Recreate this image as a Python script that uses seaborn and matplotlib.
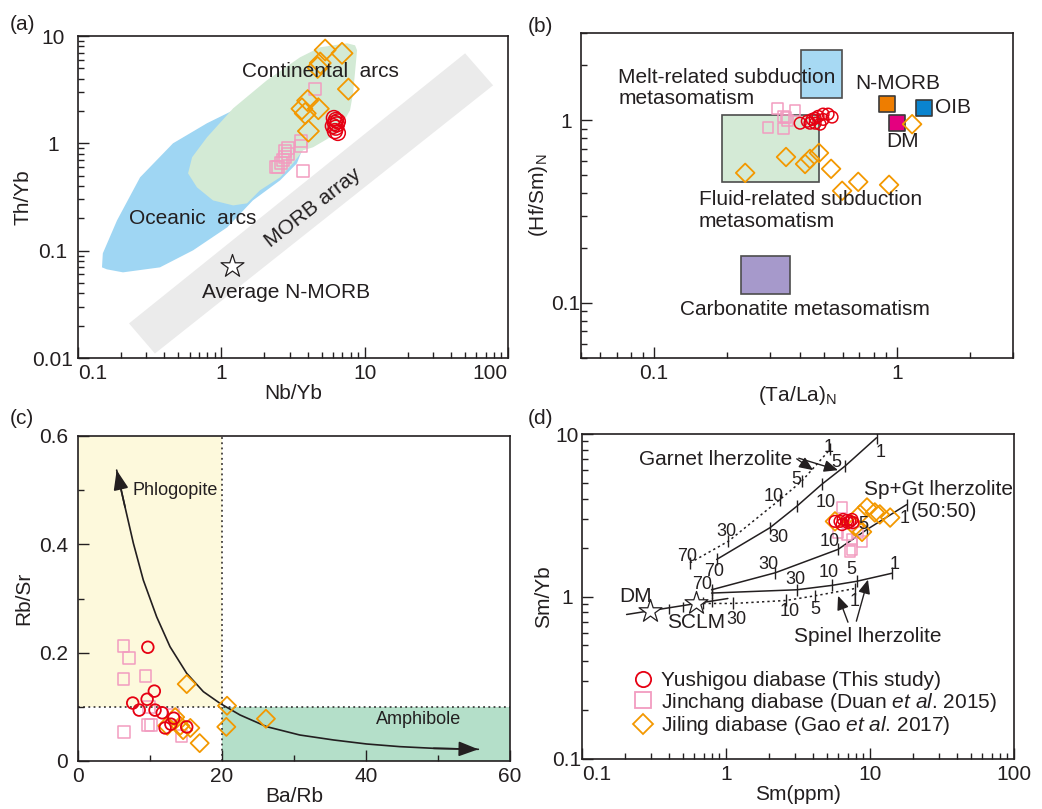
import matplotlib
matplotlib.use("Agg")
import matplotlib.pyplot as plt
import seaborn as sns
from matplotlib.ticker import FuncFormatter, NullFormatter, LogLocator, MultipleLocator
from matplotlib.lines import Line2D

# ---------------- (a) Th/Yb vs Nb/Yb ----------------
a_yus_nb = [6.1, 6.3, 6.5, 6.2, 6.4, 6.0, 6.3, 6.2, 6.5]
a_yus_th = [1.72, 1.65, 1.6, 1.55, 1.5, 1.45, 1.4, 1.3, 1.25]
a_jin_nb = [4.5, 3.6, 3.6, 2.9, 2.8, 2.9, 2.8, 2.7, 2.6, 2.5, 2.4, 3.7]
a_jin_th = [3.2, 1.05, 0.94, 0.9, 0.85, 0.8, 0.75, 0.7, 0.65, 0.6, 0.6, 0.55]
a_jil_nb = [5.3, 6.95, 4.9, 4.7, 7.7, 4.0, 3.65, 4.75, 3.85, 4.05]
a_jil_th = [7.4, 6.9, 5.6, 5.1, 3.2, 2.5, 2.1, 2.1, 1.9, 1.3]

cont_arc_x = [8.57, 8.85, 8.3, 7.9, 6.41, 4.36, 3.72, 3.16, 2.57, 1.86, 1.51, 1.21,
              0.875, 0.676, 0.586, 0.625, 0.795, 1.21, 2.08, 3.54, 4.89, 7.54]
cont_arc_y = [8.19, 7.36, 2.92, 2.03, 1.24, 0.918, 0.861, 0.651, 0.482, 0.365, 0.276, 0.264,
              0.294, 0.389, 0.525, 0.741, 1.14, 2.12, 3.87, 6.33, 7.85, 8.55]
ocean_arc_x = [0.147, 0.149, 0.187, 0.271, 0.46, 0.795, 1.21, 3.54, 3.72, 3.37, 2.57,
               1.66, 1.10, 0.635, 0.373, 0.206, 0.159]
ocean_arc_y = [0.0699, 0.0944, 0.191, 0.482, 1.0, 1.54, 2.03, 1.64, 0.918, 0.651, 0.452,
               0.294, 0.165, 0.1007, 0.0699, 0.0628, 0.067]
morb_x = [0.227, 0.344, 78.7, 50.2]
morb_y = [0.021, 0.011, 3.47, 6.9]
nmorb_avg = (1.19, 0.0714)

# ---------------- (b) (Hf/Sm)N vs (Ta/La)N ----------------
b_yus_ta = [0.399, 0.427, 0.447, 0.46, 0.473, 0.496, 0.52, 0.54, 0.482, 0.46, 0.438, 0.496]
b_yus_hf = [0.963, 0.987, 1.01, 1.025, 1.05, 1.08, 1.08, 1.04, 0.951, 0.963, 0.963, 1.01]
b_jin_ta = [0.321, 0.38, 0.349, 0.34, 0.294, 0.34, 0.355]
b_jin_hf = [1.16, 1.13, 1.03, 1.05, 0.916, 0.905, 1.0]
b_jil_ta = [0.237, 0.349, 0.418, 0.438, 0.477, 0.535, 0.594, 0.692, 0.927, 1.153]
b_jil_hf = [0.515, 0.629, 0.576, 0.614, 0.662, 0.542, 0.411, 0.46, 0.443, 0.951]

melt_box = (0.403, 0.594, 1.32, 2.43)
fluid_box = (0.19, 0.477, 0.46, 1.065)
carb_box = (0.228, 0.363, 0.112, 0.18)
ref_names = ["N-MORB", "OIB", "DM"]
ref_ta = [0.91, 1.285, 1.0]
ref_hf = [1.23, 1.17, 0.97]
ref_colors = ["#ee7d00", "#0a84cf", "#e4007f"]

# ---------------- (c) Rb/Sr vs Ba/Rb ----------------
c_yus_ba = [9.7, 10.6, 9.6, 7.6, 8.5, 10.7, 11.7, 13.3, 12.9, 12.1, 15.1]
c_yus_rb = [0.210, 0.129, 0.114, 0.107, 0.094, 0.094, 0.089, 0.079, 0.068, 0.061, 0.063]
c_jin_ba = [6.3, 7.1, 6.3, 9.4, 9.9, 6.4, 9.7, 10.1, 14.4, 13.2]
c_jin_rb = [0.212, 0.190, 0.151, 0.157, 0.100, 0.054, 0.066, 0.066, 0.046, 0.085]
c_jil_ba = [15.1, 20.7, 20.6, 26.1, 16.9, 12.4, 13.5, 14.2, 15.6, 14.6]
c_jil_rb = [0.142, 0.102, 0.063, 0.078, 0.033, 0.065, 0.081, 0.065, 0.061, 0.057]
trend_ba = [5.37, 6.53, 7.69, 9.07, 10.93, 12.78, 15.09, 17.41, 19.72, 22.5, 26.2,
            30.8, 35.5, 40.1, 44.7, 49.4, 55.6]
trend_rb = [0.537, 0.469, 0.402, 0.334, 0.266, 0.211, 0.162, 0.128, 0.1065, 0.085,
            0.0634, 0.048, 0.0388, 0.0314, 0.0265, 0.0234, 0.0216]

# ---------------- (d) Sm/Yb vs Sm ----------------
d_yus_sm = [5.71, 6.19, 6.5, 6.92, 7.26, 7.62, 6.39, 7.03, 7.5]
d_yus_ra = [2.9, 2.9, 2.98, 2.94, 2.9, 2.85, 2.77, 2.85, 2.98]
d_jin_sm = [6.39, 6.92, 7.5, 8.8, 7.5, 7.26, 6.0, 8.26]
d_jin_ra = [3.53, 2.41, 2.24, 2.18, 1.95, 1.89, 2.48, 2.48]
d_jil_sm = [5.71, 8.53, 9.53, 10.8, 11.7, 13.8, 7.87, 8.8]
d_jil_ra = [2.9, 3.2, 3.53, 3.29, 3.2, 3.06, 2.7, 2.5]

gt_solid_sm = [0.861, 2.02, 3.1, 4.61, 6.7, 11.1]
gt_solid_ra = [1.69, 2.65, 3.59, 4.89, 6.34, 9.48]
gt_dot_sm = [0.562, 1.04, 2.37, 3.36, 5.27]
gt_dot_ra = [1.61, 2.19, 3.95, 5.13, 8.03]
spgt_sm = [0.794, 2.2, 6.0, 9.5, 18.0]
spgt_ra = [1.10, 1.40, 1.95, 2.58, 3.68]
sp_solid_sm = [0.794, 3.1, 5.42, 8.07, 14.2]
sp_solid_ra = [1.05, 1.10, 1.17, 1.24, 1.39]
sp_dot_sm = [0.695, 1.12, 2.6, 4.15, 7.87]
sp_dot_ra = [0.906, 0.906, 0.945, 1.01, 1.12]
mantle_sm = [0.204, 1.03]
mantle_ra = [0.775, 0.972]
mantle_names = ["DM", "SCLM"]
mantle_star_sm = [0.297, 0.62]
mantle_star_ra = [0.812, 0.906]

# melting-degree labels (%) along each curve
gt_solid_lab = ["70", "30", "10", "5", "1"]
gt_solid_lab_sm = [0.83, 2.3, 4.94, 5.8, 11.9]
gt_solid_lab_ra = [1.43, 2.3, 3.77, 6.65, 7.66]
gt_dot_lab = ["70", "30", "10", "5", "1"]
gt_dot_lab_sm = [0.536, 1.01, 2.13, 3.06, 5.13]
gt_dot_lab_ra = [1.77, 2.52, 4.14, 5.25, 8.22]
spgt_lab = ["70", "30", "10", "5", "1"]
spgt_lab_sm = [0.678, 1.97, 5.27, 9.0, 17.3]
spgt_lab_ra = [1.19, 1.57, 2.19, 2.77, 3.0]
sp_solid_lab = ["30", "10", "5", "1"]
sp_solid_lab_sm = [3.01, 5.13, 7.46, 14.9]
sp_solid_lab_ra = [1.27, 1.40, 1.47, 1.57]
sp_dot_lab = ["30", "10", "5", "1"]
sp_dot_lab_sm = [1.19, 2.78, 4.15, 7.87]
sp_dot_lab_ra = [0.722, 0.812, 0.832, 0.936]

RED = "#e60012"
PINK = "#f29cc0"
ORANGE = "#f39800"
INK = "#231f20"

sns.set_theme(style="ticks")
plt.rcParams["font.family"] = ["Liberation Sans", "DejaVu Sans"]
plt.rcParams["mathtext.fontset"] = "custom"
plt.rcParams["mathtext.rm"] = "Liberation Sans"
plt.rcParams["mathtext.it"] = "Liberation Sans:italic"
plt.rcParams["text.color"] = INK
plt.rcParams["axes.labelcolor"] = INK

FS = 15
W, H = 1042, 809
fig = plt.figure(figsize=(W / 100, H / 100), dpi=100)
ax_a = fig.add_axes([78 / W, 1 - 358 / H, 430 / W, 322 / H])
ax_b = fig.add_axes([581 / W, 1 - 358 / H, 432 / W, 325 / H])
ax_c = fig.add_axes([78 / W, 1 - 761 / H, 432 / W, 325 / H])
ax_d = fig.add_axes([582 / W, 1 - 759 / H, 432 / W, 325 / H])

plain = FuncFormatter(lambda v, p: f"{v:g}")


def style(ax, log=True, ypad=8, yha="right"):
    for sp in ax.spines.values():
        sp.set_linewidth(1.2)
        sp.set_color(INK)
    ax.tick_params(which="both", direction="in", top=False, right=False,
                   colors=INK, labelsize=FS, width=1.0)
    ax.tick_params(which="major", length=8)
    ax.tick_params(which="minor", length=4.5)
    ax.tick_params(axis="x", which="both", pad=4)
    ax.tick_params(axis="y", which="both", pad=ypad)
    if log:
        ax.set_xscale("log")
        ax.set_yscale("log")
        for axis in (ax.xaxis, ax.yaxis):
            axis.set_major_locator(LogLocator(base=10, numticks=10))
            axis.set_minor_locator(LogLocator(base=10, subs=range(2, 10), numticks=20))
            axis.set_major_formatter(plain)
            axis.set_minor_formatter(NullFormatter())
    plt.setp(ax.get_yticklabels(), ha=yha)


def align_xlabel(ax, text, ha):
    for lab in ax.get_xticklabels():
        if lab.get_text() == text:
            lab.set_ha(ha)


def hollow(ax, x, y, marker, color, s, lw=1.1, z=5):
    sns.scatterplot(x=x, y=y, marker=marker, s=s, facecolor="none", edgecolor=color,
                    linewidth=lw, ax=ax, zorder=z, legend=False)


# ================= (a) =================
ax = ax_a
ax.fill(ocean_arc_x, ocean_arc_y, color="#9fd6f3", lw=0, zorder=1)
ax.fill(cont_arc_x, cont_arc_y, color="#d3ead5", lw=0, zorder=2)
ax.fill(morb_x, morb_y, color="#ebebeb", lw=0, zorder=1)
ax.scatter([nmorb_avg[0]], [nmorb_avg[1]], marker="*", s=300, facecolor="white",
           edgecolor=INK, linewidth=0.9, zorder=4)
hollow(ax, a_jin_nb, a_jin_th, "s", PINK, 75)
hollow(ax, a_jil_nb, a_jil_th, "D", ORANGE, 115, lw=1.3)
hollow(ax, a_yus_nb, a_yus_th, "o", RED, 115)
ax.text(4.89, 4.69, "Continental  arcs", fontsize=FS, ha="center", va="center", zorder=6)
ax.text(0.635, 0.2, "Oceanic  arcs", fontsize=FS, ha="center", va="center", zorder=6)
ax.text(4.36, 0.253, "MORB array", fontsize=FS, ha="center", va="center",
        rotation=38, zorder=6)
ax.text(2.83, 0.0408, "Average N-MORB", fontsize=FS, ha="center", va="center", zorder=6)
ax.set_xlim(0.1, 100)
ax.set_ylim(0.01, 10)
style(ax, ypad=18, yha="center")
align_xlabel(ax, "0.1", "left")
align_xlabel(ax, "100", "right")
ax.set_xlabel("Nb/Yb", fontsize=FS, labelpad=1)
ax.set_ylabel("Th/Yb", fontsize=FS)
ax.yaxis.set_label_coords(-0.105, 0.5)

# ================= (b) =================
ax = ax_b
for (x0, x1, y0, y1), col in [(melt_box, "#a7d9f3"), (fluid_box, "#d4ead6"),
                              (carb_box, "#a699cb")]:
    ax.fill([x0, x1, x1, x0], [y0, y0, y1, y1], facecolor=col, edgecolor="#4d4d4d",
            lw=1.2, zorder=1)
for xv, yv, col in zip(ref_ta, ref_hf, ref_colors):
    ax.scatter([xv], [yv], marker="s", s=140, facecolor=col, edgecolor="#3a3a3a",
               linewidth=1.2, zorder=3)
hollow(ax, b_jin_ta, b_jin_hf, "s", PINK, 60)
hollow(ax, b_jil_ta, b_jil_hf, "D", ORANGE, 90, lw=1.3)
hollow(ax, b_yus_ta, b_yus_hf, "o", RED, 70)
ax.text(0.0711, 1.71, "Melt-related subduction", fontsize=FS, ha="left", va="center", zorder=6)
ax.text(0.0711, 1.317, "metasomatism", fontsize=FS, ha="left", va="center", zorder=6)
ax.text(0.153, 0.367, "Fluid-related subduction", fontsize=FS, ha="left", va="center", zorder=6)
ax.text(0.153, 0.279, "metasomatism", fontsize=FS, ha="left", va="center", zorder=6)
ax.text(0.128, 0.0916, "Carbonatite metasomatism", fontsize=FS, ha="left", va="center", zorder=6)
ax.text(1.01, 1.59, ref_names[0], fontsize=FS, ha="center", va="center", zorder=6)
ax.text(1.43, 1.18, ref_names[1], fontsize=FS, ha="left", va="center", zorder=6)
ax.text(1.05, 0.769, ref_names[2], fontsize=FS, ha="center", va="center", zorder=6)
ax.set_xlim(0.05, 3)
ax.set_ylim(0.05, 3)
style(ax, ypad=11, yha="center")
ax.set_xlabel("(Ta/La)$_\\mathregular{N}$", fontsize=FS, labelpad=1)
ax.set_ylabel("(Hf/Sm)$_\\mathregular{N}$", fontsize=FS)
ax.yaxis.set_label_coords(-0.072, 0.5)

# ================= (c) =================
ax = ax_c
ax.fill([0, 20, 20, 0], [0.1, 0.1, 0.6, 0.6], color="#fdf9dc", lw=0, zorder=0)
ax.fill([20, 60, 60, 20], [0, 0, 0.1, 0.1], color="#b4dfc9", lw=0, zorder=0)
ax.axvline(20, color=INK, lw=1.1, ls=(0, (1.2, 2.2)), zorder=1)
ax.axhline(0.1, color=INK, lw=1.1, ls=(0, (1.2, 2.2)), zorder=1)
ax.plot(trend_ba, trend_rb, color=INK, lw=1.2, zorder=2)
head = dict(arrowstyle="-|>,head_length=1.0,head_width=0.38", color=INK, lw=1.2,
            shrinkA=0, shrinkB=0)
ax.annotate("", xy=(trend_ba[0], trend_rb[0]), xytext=(trend_ba[1], trend_rb[1]),
            arrowprops=head, zorder=3)
ax.annotate("", xy=(trend_ba[-1], trend_rb[-1]), xytext=(trend_ba[-2], trend_rb[-2]),
            arrowprops=head, zorder=3)
hollow(ax, c_jin_ba, c_jin_rb, "s", PINK, 70)
hollow(ax, c_jil_ba, c_jil_rb, "D", ORANGE, 85, lw=1.3)
hollow(ax, c_yus_ba, c_yus_rb, "o", RED, 70, lw=1.3)
ax.text(7.6, 0.5, "Phlogopite", fontsize=13, ha="left", va="center", zorder=6)
ax.text(41.4, 0.076, "Amphibole", fontsize=13, ha="left", va="center", zorder=6)
ax.set_xlim(0, 60)
ax.set_ylim(0, 0.6)
style(ax, log=False, ypad=7)
ax.xaxis.set_major_locator(MultipleLocator(20))
ax.xaxis.set_minor_locator(MultipleLocator(10))
ax.yaxis.set_major_locator(MultipleLocator(0.2))
ax.yaxis.set_minor_locator(MultipleLocator(0.1))
ax.xaxis.set_major_formatter(plain)
ax.yaxis.set_major_formatter(plain)
ax.set_xlabel("Ba/Rb", fontsize=FS, labelpad=1)
ax.set_ylabel("Rb/Sr", fontsize=FS)
ax.yaxis.set_label_coords(-0.104, 0.5)

# ================= (d) =================
ax = ax_d
ax.plot(gt_solid_sm, gt_solid_ra, color=INK, lw=1.1, zorder=2)
ax.plot(gt_dot_sm, gt_dot_ra, color=INK, lw=1.1, ls=(0, (1.5, 2.0)), zorder=2)
ax.plot(spgt_sm, spgt_ra, color=INK, lw=1.1, zorder=2)
ax.plot(sp_solid_sm, sp_solid_ra, color=INK, lw=1.1, zorder=2)
ax.plot(sp_dot_sm, sp_dot_ra, color=INK, lw=1.1, ls=(0, (1.5, 2.0)), zorder=2)
ax.plot(mantle_sm, mantle_ra, color=INK, lw=1.1, zorder=2)
for xs, ys in [(gt_solid_sm, gt_solid_ra), (gt_dot_sm, gt_dot_ra), (spgt_sm, spgt_ra),
               (sp_solid_sm, sp_solid_ra), (sp_dot_sm, sp_dot_ra)]:
    ax.plot(xs, ys, ls="none", marker="|", ms=9, mew=1.0, color=INK, zorder=2)
ax.plot([0.4, 0.5, 0.8], [0.835, 0.86, 0.93], ls="none", marker="|", ms=7, mew=1.0,
        color=INK, zorder=2)
ax.scatter(mantle_star_sm, mantle_star_ra, marker="*", s=300, facecolor="white",
           edgecolor=INK, linewidth=0.9, zorder=4)
for labs, xs, ys in [(gt_solid_lab, gt_solid_lab_sm, gt_solid_lab_ra),
                     (gt_dot_lab, gt_dot_lab_sm, gt_dot_lab_ra),
                     (spgt_lab, spgt_lab_sm, spgt_lab_ra),
                     (sp_solid_lab, sp_solid_lab_sm, sp_solid_lab_ra),
                     (sp_dot_lab, sp_dot_lab_sm, sp_dot_lab_ra)]:
    for t, xv, yv in zip(labs, xs, ys):
        ax.text(xv, yv, t, fontsize=13, ha="center", va="center", zorder=6)
ax.text(0.237, 1.0, mantle_names[0], fontsize=FS, ha="center", va="center", zorder=6)
ax.text(0.62, 0.69, mantle_names[1], fontsize=FS, ha="center", va="center", zorder=6)
ax.text(0.853, 6.97, "Garnet lherzolite", fontsize=FS, ha="center", va="center", zorder=6)
ax.text(9.7, 0.565, "Spinel lherzolite", fontsize=FS, ha="center", va="center", zorder=6)
ax.text(29.8, 4.55, "Sp+Gt lherzolite", fontsize=FS, ha="center", va="center", zorder=6)
ax.text(32.5, 3.35, "(50:50)", fontsize=FS, ha="center", va="center", zorder=6)
arr = dict(arrowstyle="-|>,head_length=0.7,head_width=0.3", color=INK, lw=1.0,
           shrinkA=0, shrinkB=0)
ax.annotate("", xy=(4.03, 5.99), xytext=(3.1, 7.03), arrowprops=arr, zorder=5)
ax.annotate("", xy=(6.0, 5.99), xytext=(3.2, 7.1), arrowprops=arr, zorder=5)
ax.annotate("", xy=(6.0, 1.01), xytext=(7.03, 0.695), arrowprops=arr, zorder=5)
ax.annotate("", xy=(9.68, 1.27), xytext=(8.04, 0.705), arrowprops=arr, zorder=5)
hollow(ax, d_jin_sm, d_jin_ra, "s", PINK, 60)
hollow(ax, d_jil_sm, d_jil_ra, "D", ORANGE, 90, lw=1.3)
hollow(ax, d_yus_sm, d_yus_ra, "o", RED, 70)
ax.set_xlim(0.1, 100)
ax.set_ylim(0.1, 10)
style(ax, ypad=11, yha="center")
align_xlabel(ax, "0.1", "left")
ax.set_xlabel("Sm(ppm)", fontsize=FS, labelpad=1)
ax.set_ylabel("Sm/Yb", fontsize=FS)
ax.yaxis.set_label_coords(-0.067, 0.5)

handles = [
    Line2D([], [], ls="none", marker="o", ms=11, mfc="none", mec=RED, mew=1.3),
    Line2D([], [], ls="none", marker="s", ms=11, mfc="none", mec=PINK, mew=1.3),
    Line2D([], [], ls="none", marker="D", ms=10, mfc="none", mec=ORANGE, mew=1.3),
]
labels = [
    "Yushigou diabase (This study)",
    "Jinchang diabase (Duan $et$ $al$. 2015)",
    "Jiling diabase (Gao $et$ $al$. 2017)",
]
ax.legend(handles, labels, loc="upper left", bbox_to_anchor=(0.118, 0.27),
          frameon=False, fontsize=FS, handlelength=1.0, handletextpad=0.35,
          labelspacing=0.02, borderpad=0, borderaxespad=0)

# panel letters
for txt, px, py in [("(a)", 10, 25), ("(b)", 528, 26), ("(c)", 10, 418), ("(d)", 528, 419)]:
    fig.text(px / W, 1 - py / H, txt, fontsize=FS, ha="left", va="center")

fig.savefig("out.png", dpi=100)
